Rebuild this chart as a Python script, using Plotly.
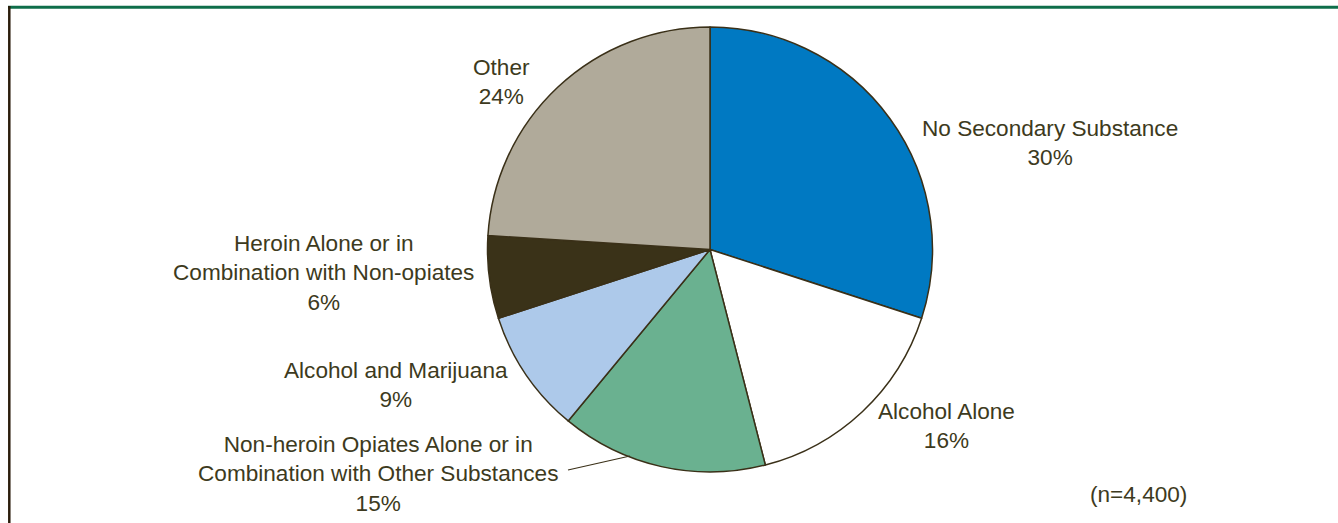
import plotly.graph_objects as go

categories = [
    "No Secondary Substance",
    "Alcohol Alone",
    "Non-heroin Opiates Alone or in<br>Combination with Other Substances",
    "Alcohol and Marijuana",
    "Heroin Alone or in<br>Combination with Non-opiates",
    "Other",
]
values = [30, 16, 15, 9, 6, 24]
colors = ["#0079c2", "#ffffff", "#6ab190", "#adc9ea", "#3a3218", "#b0aa9a"]
n_label = "(n=4,400)"

W, H = 1338, 523
CX, CY, R = 710, 249.5, 222.5

# label block centres in pixels (layout only)
label_pos = [(1050, 143), (946, 426), (378, 474), (396, 385), (323, 273), (501, 82)]

def px(x):
    return x / W

def py(y):
    return 1 - y / H

fig = go.Figure()
fig.add_trace(go.Pie(
    labels=categories,
    values=values,
    sort=False,
    direction="clockwise",
    rotation=0,
    marker=dict(colors=colors, line=dict(color="#3a3018", width=1.5)),
    textinfo="none",
    hoverinfo="label+percent",
    showlegend=False,
    domain=dict(x=[px(CX - R), px(CX + R)], y=[py(CY + R), py(CY - R)]),
))

font = dict(family="Liberation Sans, Arial, sans-serif", size=22.6, color="#3d3a20")
for cat, v, (x, y) in zip(categories, values, label_pos):
    fig.add_annotation(
        x=px(x), y=py(y), xref="paper", yref="paper",
        text=f"{cat}<br>{v}%", showarrow=False,
        xanchor="center", yanchor="middle", align="center", font=font,
    )
fig.add_annotation(
    x=px(1138), y=py(494), xref="paper", yref="paper", text=n_label,
    showarrow=False, xanchor="center", yanchor="middle", font=font,
)

shapes = [
    # leader line
    dict(type="line", xref="paper", yref="paper", x0=px(568), y0=py(470), x1=px(630), y1=py(456),
         line=dict(color="#3a3018", width=1.2)),
    # frame: top green line
    dict(type="line", xref="paper", yref="paper", x0=px(8), y0=py(7.3), x1=1, y1=py(7.3),
         line=dict(color="#0e6e4a", width=3)),
    # frame: left dark line
    dict(type="line", xref="paper", yref="paper", x0=px(9.3), y0=py(6), x1=px(9.3), y1=0,
         line=dict(color="#2b1d0b", width=2.5)),
]
fig.update_layout(
    width=W, height=H,
    margin=dict(l=0, r=0, t=0, b=0),
    paper_bgcolor="white", plot_bgcolor="white",
    shapes=shapes,
)
fig.write_html("out.html")
